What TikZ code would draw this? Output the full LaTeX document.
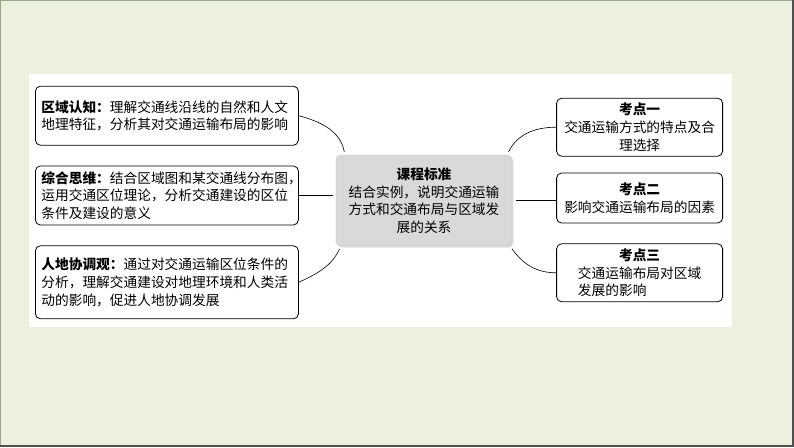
\documentclass[tikz,border=0pt]{standalone}
\usepackage{fontspec}
\setmainfont{Noto Sans CJK SC}
\usetikzlibrary{positioning, shadows}
\definecolor{slidegreen}{HTML}{EBF1DE}
\definecolor{framegreen}{HTML}{9AA68A}
\definecolor{framedark}{HTML}{505050}
\definecolor{coregray}{HTML}{D9D9D9}
\tikzstyle{literacybox} = [rectangle, rounded corners=5pt, text width=251pt, inner xsep=6pt, minimum height=59pt, align=left, draw=black, line width=0.8pt, fill=white]
\tikzstyle{corebox} = [rectangle, rounded corners=5pt, text width=164pt, inner xsep=6pt, minimum height=91pt, align=center, draw=black!25, fill=coregray, drop shadow={opacity=0.25, shadow xshift=1.5pt, shadow yshift=-1.5pt}]
\tikzstyle{pointbox} = [rectangle, rounded corners=5pt, text width=154pt, inner xsep=6pt, minimum height=58pt, align=center, draw=black, line width=0.8pt, fill=white]
\tikzstyle{branch} = [line width=0.6pt]

\begin{document}
\begin{tikzpicture}[node distance=20pt, font=\fontsize{13.7pt}{17.6pt}\selectfont]
\useasboundingbox (0pt,0pt) rectangle (794pt,-447pt);
% slide and white panel
\fill [slidegreen] (0pt,0pt) rectangle (794pt,-447pt);
\draw [framegreen, line width=1pt] (0.5pt,-446pt) -- (0.5pt,-0.5pt) -- (792pt,-0.5pt);
\draw [framedark, line width=2pt] (793pt,0pt) -- (793pt,-446pt) -- (0pt,-446pt);
\fill [white] (29pt,-74pt) rectangle (732pt,-327pt);

\node (standard) [corebox] at (424pt,-200.5pt) {\textbf{课程标准}\\结合实例，说明交通运输\\方式和交通布局与区域发\\展的关系};
\node (thinking) [literacybox, left=37pt of standard, yshift=5pt] {\textbf{综合思维：}结合区域图和某交通线分布图，\\运用交通区位理论，分析交通建设的区位\\条件及建设的意义};
\node (region) [literacybox, above=of thinking] {\textbf{区域认知：}理解交通线沿线的自然和人文\\地理特征，分析其对交通运输布局的影响};
\node (harmony) [literacybox, below=of thinking, minimum height=73pt] {\textbf{人地协调观：}通过对交通运输区位条件的\\分析，理解交通建设对地理环境和人类活\\动的影响，促进人地协调发展};
\node (point2) [pointbox, right=44pt of standard, yshift=2.5pt, minimum height=50pt] {\textbf{考点二}\\影响交通运输布局的因素};
\node (point1) [pointbox, above=16pt of point2] {\textbf{考点一}\\交通运输方式的特点及合\\理选择};
\node (point3) [pointbox, below=of point2] {\textbf{考点三}\\交通运输布局对区域\\发展的影响\phantom{对区域布}};

% branches
\draw [branch, shorten >=3pt] (region.east) to [out=-15, in=100] ([xshift=9pt]standard.north west);
\draw [branch, shorten >=3pt] (thinking.east) -- (thinking.east -| standard.west);
\draw [branch, shorten >=3pt] (harmony.east) to [out=25, in=-115] ([xshift=5pt]standard.south west);
\draw [branch, shorten <=3pt] ([xshift=-5pt]standard.north east) to [out=65, in=180] (point1.west);
\draw [branch, shorten <=4pt] (standard.east) -- (standard.east -| point2.west);
\draw [branch, shorten <=3pt] ([xshift=-2pt]standard.south east) to [out=-55, in=180] (point3.west);
\end{tikzpicture}
\end{document}
